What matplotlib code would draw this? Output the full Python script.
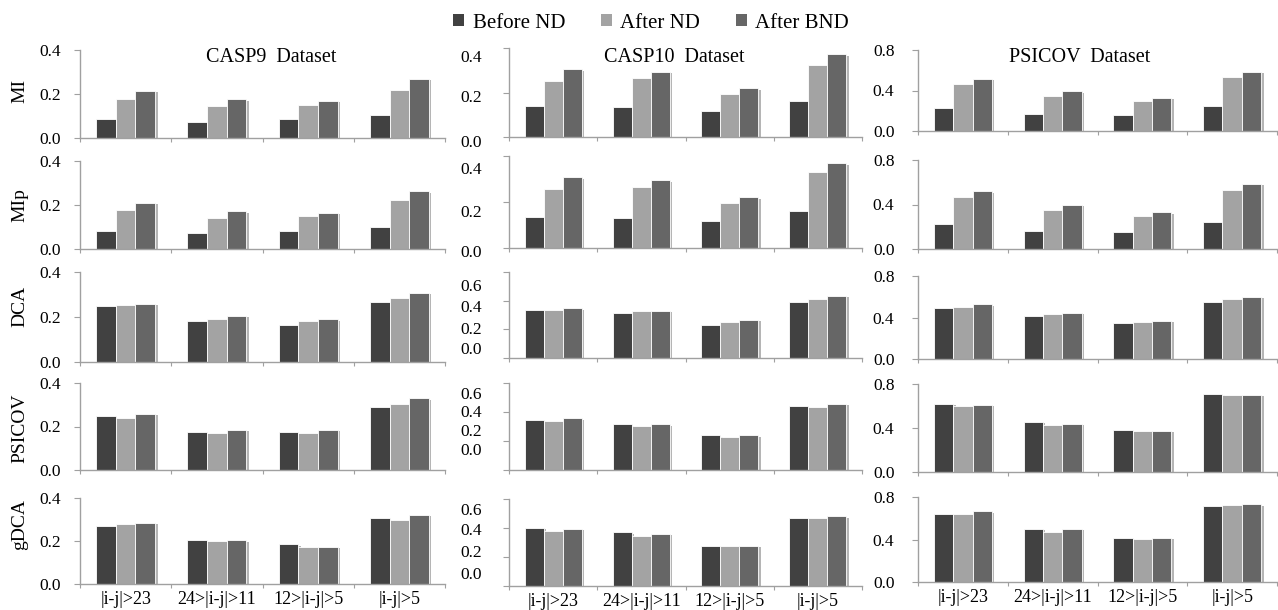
import matplotlib
matplotlib.use('Agg')
import matplotlib.pyplot as plt
import matplotlib.patheffects as pe
from matplotlib.patches import Patch
import numpy as np

plt.rcParams['font.family'] = ['Liberation Serif', 'DejaVu Serif']

# categories / rows / columns
categories = ['|i-j|>23', '24>|i-j|>11', '12>|i-j|>5', '|i-j|>5']
methods = ['MI', 'MIp', 'DCA', 'PSICOV', 'gDCA']
datasets = ['CASP9  Dataset', 'CASP10  Dataset', 'PSICOV  Dataset']
series_names = ['Before ND', 'After ND', 'After BND']

# one row per method (MI, MIp, DCA, PSICOV, gDCA), 4 values per category
casp9_before = [[0.086, 0.073, 0.086, 0.104],
                [0.083, 0.071, 0.083, 0.099],
                [0.247, 0.184, 0.166, 0.268],
                [0.246, 0.174, 0.174, 0.289],
                [0.271, 0.203, 0.185, 0.306]]
casp9_after_nd = [[0.177, 0.145, 0.150, 0.218],
                  [0.177, 0.141, 0.149, 0.221],
                  [0.253, 0.190, 0.181, 0.286],
                  [0.238, 0.168, 0.168, 0.302],
                  [0.280, 0.199, 0.171, 0.299]]
casp9_after_bnd = [[0.214, 0.176, 0.168, 0.268],
                   [0.210, 0.171, 0.164, 0.263],
                   [0.260, 0.205, 0.190, 0.307],
                   [0.257, 0.185, 0.185, 0.329],
                   [0.285, 0.203, 0.174, 0.322]]

casp10_before = [[0.140, 0.134, 0.118, 0.161],
                 [0.136, 0.131, 0.118, 0.161],
                 [0.334, 0.314, 0.232, 0.390],
                 [0.346, 0.314, 0.238, 0.439],
                 [0.400, 0.369, 0.273, 0.469]]
casp10_after_nd = [[0.252, 0.266, 0.194, 0.325],
                   [0.255, 0.266, 0.197, 0.330],
                   [0.334, 0.325, 0.248, 0.410],
                   [0.335, 0.303, 0.226, 0.434],
                   [0.377, 0.342, 0.273, 0.469]]
casp10_after_bnd = [[0.305, 0.294, 0.219, 0.372],
                    [0.308, 0.295, 0.220, 0.369],
                    [0.346, 0.330, 0.265, 0.434],
                    [0.356, 0.314, 0.238, 0.455],
                    [0.393, 0.362, 0.277, 0.480]]

psicov_before = [[0.226, 0.167, 0.157, 0.246],
                 [0.225, 0.165, 0.156, 0.246],
                 [0.496, 0.419, 0.346, 0.554],
                 [0.620, 0.455, 0.380, 0.710],
                 [0.642, 0.500, 0.417, 0.715]]
psicov_after_nd = [[0.462, 0.347, 0.298, 0.534],
                   [0.464, 0.351, 0.300, 0.533],
                   [0.506, 0.435, 0.358, 0.579],
                   [0.600, 0.430, 0.370, 0.700],
                   [0.642, 0.471, 0.402, 0.724]]
psicov_after_bnd = [[0.514, 0.393, 0.327, 0.583],
                    [0.518, 0.396, 0.330, 0.587],
                    [0.528, 0.448, 0.371, 0.602],
                    [0.610, 0.440, 0.375, 0.700],
                    [0.664, 0.500, 0.417, 0.733]]

all_data = [[casp9_before, casp9_after_nd, casp9_after_bnd],
            [casp10_before, casp10_after_nd, casp10_after_bnd],
            [psicov_before, psicov_after_nd, psicov_after_bnd]]

colors = ['#414141', '#a3a3a3', '#666666']
axis_gray = '#a0a0a0'

W, H = 1278, 610
fig = plt.figure(figsize=(W / 100, H / 100), dpi=100)

# axes placement in pixels: column x-range, row (top, bottom)
col_x = [(80, 445), (509, 862), (918, 1277)]
col_rows = [[(50, 138), (161, 249), (272, 362), (383, 470), (498, 584)],
            [(48, 137), (156, 248), (272, 358), (383, 470), (499, 586)],
            [(50, 131), (160, 249), (276, 359), (384, 472), (497, 582)]]

# y limits / ticks per column (middle column changes after row 2)
def y_setup(c, r):
    if c == 0:
        return 0.4, [0.0, 0.2, 0.4]
    if c == 1:
        if r < 2:
            return 0.4, [0.0, 0.2, 0.4]
        return 0.6, [0.0, 0.2, 0.4, 0.6]
    return 0.8, [0.0, 0.4, 0.8]

# the middle column's tick labels sit off their ticks in the original
mid_label_pos = [[-0.067, 0.438, 0.888],
                 [-0.054, 0.380, 0.848],
                 [0.093, 0.326, 0.581, 0.826],
                 [0.218, 0.440, 0.652, 0.862],
                 [0.127, 0.384, 0.630, 0.861]]

tick_fs = 12.5
bw = 0.215
x = np.arange(len(categories))
shadow = [pe.SimplePatchShadow(offset=(1.8, -1.0), shadow_rgbFace='#b5b5b5', alpha=1.0),
          pe.Normal()]

for c in range(3):
    x0, x1 = col_x[c]
    for r in range(5):
        yt, yb = col_rows[c][r]
        ax = fig.add_axes([x0 / W, 1 - yb / H, (x1 - x0) / W, (yb - yt) / H])
        for k in range(3):
            bars = ax.bar(x + (k - 1) * bw, all_data[c][k][r], width=bw,
                          color=colors[k], edgecolor='white', linewidth=0.6,
                          zorder=2)
            for b in bars:
                b.set_path_effects(shadow)
        ymax, yticks = y_setup(c, r)
        ax.set_xlim(-0.5, 3.5)
        ax.set_ylim(0, ymax)
        for s in ['top', 'right']:
            ax.spines[s].set_visible(False)
        for s in ['left', 'bottom']:
            ax.spines[s].set_color(axis_gray)
            ax.spines[s].set_linewidth(1.0)
        ax.set_xticks([-0.5, 0.5, 1.5, 2.5, 3.5])
        ax.set_xticklabels([])
        ax.tick_params(axis='x', which='major', length=3, color=axis_gray,
                       direction='out')
        ax.set_yticks(yticks)
        ax.tick_params(axis='y', length=4, color=axis_gray, direction='out',
                       labelsize=tick_fs, pad=13 if c == 2 else 10)
        if c == 1:
            ax.set_yticklabels([])
            for t, fpos in zip(yticks, mid_label_pos[r]):
                ax.text(-27 / (x1 - x0), fpos, f'{t:.1f}', transform=ax.transAxes,
                        ha='right', va='center', fontsize=tick_fs)
        else:
            ax.set_yticklabels([f'{t:.1f}' for t in yticks])
        if r == 4:
            ax.set_xticks(x, minor=True)
            ax.set_xticklabels(categories, minor=True, fontsize=13)
            ax.tick_params(axis='x', which='minor', length=0, pad=5)

# row labels
label_y = [91, 205, 306, 428, 525]
for name, yc in zip(methods, label_y):
    fig.text(20 / W, 1 - yc / H, name, rotation=90, ha='center', va='center',
             fontsize=14)

# dataset titles
title_x = [271, 674, 1080]
for name, tx in zip(datasets, title_x):
    fig.text(tx / W, 1 - 57 / H, name, ha='center', va='center', fontsize=14.5)

handles = [Patch(facecolor=colors[k], edgecolor='none') for k in range(3)]
fig.legend(handles, series_names, loc='center', ncol=3, frameon=False,
           bbox_to_anchor=(651 / W, 1 - 23 / H), fontsize=15,
           handlelength=0.55, handleheight=0.55, handletextpad=0.4,
           columnspacing=1.7, borderpad=0)

fig.savefig('out.png', dpi=100)
